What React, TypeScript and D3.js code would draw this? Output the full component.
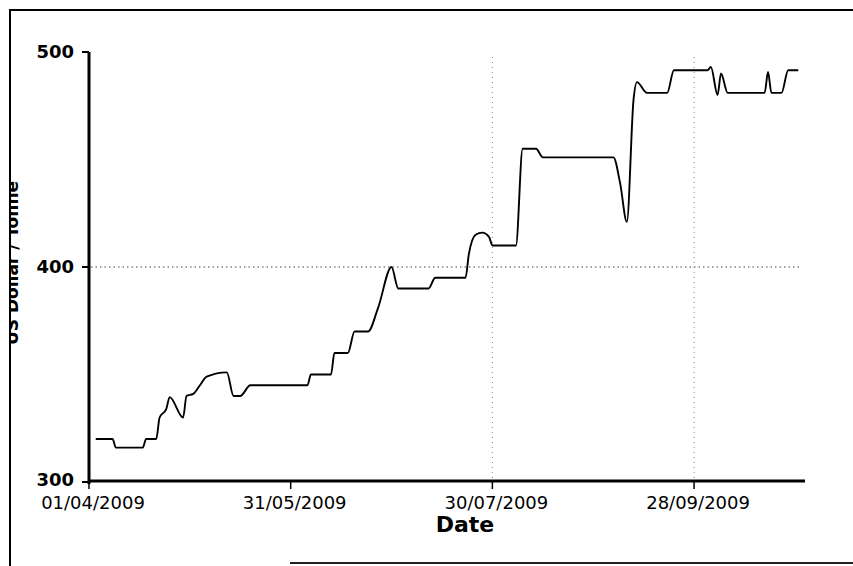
import React from "react";
import * as d3 from "d3";

const dates = [
  "2009-04-03","2009-04-08","2009-04-09","2009-04-17","2009-04-18","2009-04-21","2009-04-22","2009-04-24","2009-04-25",
  "2009-04-29","2009-04-30","2009-05-02","2009-05-04","2009-05-06","2009-05-12","2009-05-14","2009-05-16","2009-05-19",
  "2009-06-05","2009-06-06","2009-06-12","2009-06-13","2009-06-17","2009-06-19","2009-06-23","2009-06-26","2009-06-30",
  "2009-07-02","2009-07-11","2009-07-13","2009-07-22","2009-07-23","2009-07-25","2009-07-27","2009-07-29","2009-07-30",
  "2009-08-06","2009-08-08","2009-08-12","2009-08-14","2009-09-04","2009-09-06","2009-09-08","2009-09-10","2009-09-11",
  "2009-09-14","2009-09-20","2009-09-22","2009-10-02","2009-10-03","2009-10-05","2009-10-06","2009-10-08","2009-10-19",
  "2009-10-20","2009-10-21","2009-10-24","2009-10-26","2009-10-29"
];
const prices = [
  320, 320, 316, 316, 320, 320, 330, 334, 339.5,
  330, 340, 341, 345, 349, 351, 340, 340, 345,
  345, 350, 350, 360, 360, 370, 370, 381, 400,
  390, 390, 395, 395, 406, 415, 416, 414, 410,
  410, 455, 455, 451, 451, 439, 421, 478, 486,
  481, 481, 491.5, 491.5, 493, 480, 490, 481, 481,
  490.7, 481, 481, 491.5, 491.5
];

const xTickDates = ["2009-04-01", "2009-05-31", "2009-07-30", "2009-09-28"];
const xGridDates = ["2009-07-30", "2009-09-28"];
const yTicks = [300, 400, 500];
const yGrid = [400];
const xDomain = ["2009-04-01", "2009-10-31"];
const yDomain = [300, 500];
const xTitle = "Date";
const yTitle = "US Dollar / Tonne";

const parse = d3.timeParse("%Y-%m-%d");
const fmt = d3.timeFormat("%d/%m/%Y");

export default function App() {
  const W = 853, H = 566;
  const left = 89, right = 805, top = 52, bottom = 482;
  const x = d3.scaleTime().domain(xDomain.map((d) => parse(d)!)).range([left, right]);
  const y = d3.scaleLinear().domain(yDomain).range([bottom, top]);
  const data = dates.map((d, i) => ({ date: parse(d)!, v: prices[i] }));
  const line = d3.line<{ date: Date; v: number }>()
    .x((d) => x(d.date))
    .y((d) => y(d.v))
    .curve(d3.curveMonotoneX);
  const font = "'DejaVu Sans', Verdana, sans-serif";

  return (
    <svg width={W} height={H} style={{ position: "fixed", left: 0, top: 0, background: "#fff" }}>
      <defs>
        <clipPath id="frame">
          <rect x={11} y={11} width={W} height={H} />
        </clipPath>
      </defs>
      <rect x={0} y={0} width={W} height={H} fill="#fff" />
      {/* frame */}
      <line x1={9} y1={10} x2={W} y2={10} stroke="#000" strokeWidth={2} />
      <line x1={10} y1={9} x2={10} y2={H} stroke="#000" strokeWidth={2} />
      <line x1={290} y1={563} x2={W} y2={563} stroke="#222" strokeWidth={2} />

      {/* gridlines */}
      {yGrid.map((v) => (
        <line key={"gy" + v} x1={left + 2} x2={right - 5} y1={y(v)} y2={y(v)}
          stroke="#444" strokeWidth={1} strokeDasharray="1.5,3" />
      ))}
      {xGridDates.map((d) => (
        <line key={"gx" + d} x1={x(parse(d)!)} x2={x(parse(d)!)} y1={top + 5} y2={bottom - 2}
          stroke="#888" strokeWidth={1} strokeDasharray="1,4" />
      ))}

      {/* data line */}
      <path d={line(data) || ""} fill="none" stroke="#000" strokeWidth={1.9} strokeLinejoin="round" />

      {/* y axis */}
      <line x1={left} x2={left} y1={top} y2={bottom + 2} stroke="#000" strokeWidth={3} />
      {yTicks.map((t) => (
        <g key={"yt" + t}>
          <line x1={left - 7} x2={left} y1={y(t)} y2={y(t)} stroke="#000" strokeWidth={2} />
          <text x={left - 15} y={y(t) - (t === yDomain[0] ? 2 : 0)} dy="0.36em" textAnchor="end" fontFamily={font}
            fontWeight="bold" fontSize={18} fill="#000">{t}</text>
        </g>
      ))}

      {/* x axis */}
      <line x1={left} x2={right} y1={bottom - 1} y2={bottom - 1} stroke="#000" strokeWidth={3} />
      {xTickDates.map((d) => {
        const px = x(parse(d)!);
        return (
          <g key={"xt" + d}>
            <line x1={px} x2={px} y1={bottom} y2={bottom + 7} stroke="#000" strokeWidth={1.5} />
            <text x={px + 4} y={bottom + 27} textAnchor="middle" fontFamily={font}
              fontSize={18} fill="#000">{fmt(parse(d)!)}</text>
          </g>
        );
      })}

      <text x={465} y={532} textAnchor="middle" fontFamily={font} fontWeight="bold"
        fontSize={22} fill="#000">{xTitle}</text>
      <g clipPath="url(#frame)">
        <text transform={`translate(18,263) rotate(-90)`} textAnchor="middle" fontFamily={font}
          fontWeight="bold" fontSize={17} fill="#000">{yTitle}</text>
      </g>
    </svg>
  );
}
